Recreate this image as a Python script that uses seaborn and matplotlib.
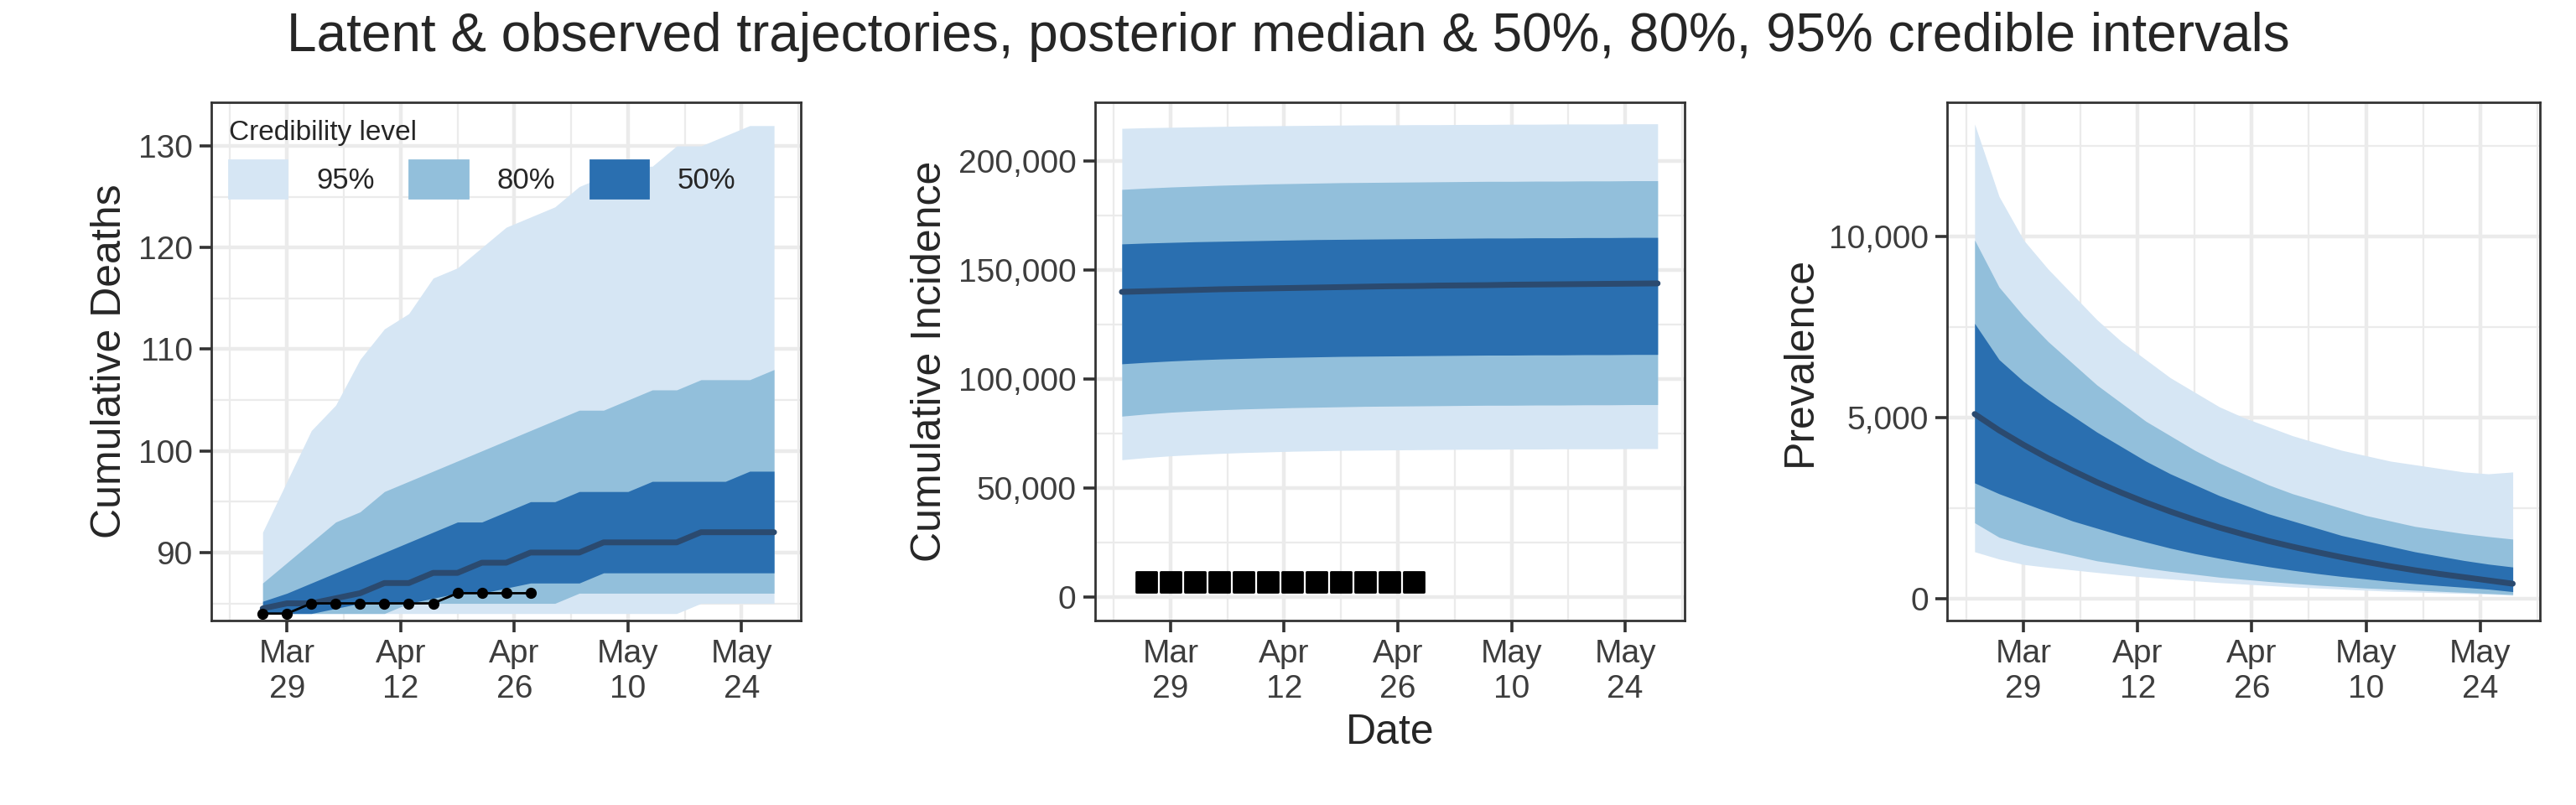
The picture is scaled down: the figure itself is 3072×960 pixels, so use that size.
import numpy as np
import pandas as pd
import matplotlib
matplotlib.use("Agg")
import matplotlib.pyplot as plt
import matplotlib.dates as mdates
from matplotlib.patches import Patch
from matplotlib.ticker import FuncFormatter, FixedLocator
import seaborn as sns

# ---- data ----
death_dates = pd.date_range("2020-03-26", "2020-05-28", freq="3D")   # 22
latent_dates = pd.date_range("2020-03-23", "2020-05-28", freq="3D")  # 23
obs_dates = pd.date_range("2020-03-26", "2020-04-28", freq="3D")     # 12

deaths_obs = [84, 84, 85, 85, 85, 85, 85, 85, 86, 86, 86, 86]
deaths_med = [84.5, 85, 85, 85.5, 86, 87, 87, 88, 88, 89, 89, 90, 90, 90, 91, 91, 91, 91, 92, 92, 92, 92]
deaths_lo50 = [84, 84, 84, 84.5, 85, 85, 85, 85.5, 86, 86, 86.5, 87, 87, 87, 88, 88, 88, 88, 88, 88, 88, 88]
deaths_hi50 = [85.2, 86, 87, 88, 89, 90, 91, 92, 93, 93, 94, 95, 95, 96, 96, 96, 97, 97, 97, 97, 98, 98]
deaths_lo80 = [84, 84, 84, 84, 84, 84, 85, 85, 85, 85, 85, 85, 85, 86, 86, 86, 86, 86, 86, 86, 86, 86]
deaths_hi80 = [87, 89, 91, 93, 94, 96, 97, 98, 99, 100, 101, 102, 103, 104, 104, 105, 106, 106, 107, 107, 107, 108]
deaths_lo95 = [84, 84, 84, 84, 84, 84, 84, 84, 84, 84, 84, 84, 84, 84, 84, 84, 84, 84, 85, 85, 85, 85]
deaths_hi95 = [92, 97, 102, 104.5, 109, 112, 113.5, 117, 118, 120, 122, 123, 124, 126, 127, 128, 128, 130, 130, 131, 132, 132]

inc_obs = [7000] * 12
inc_med = [140000, 140300, 140600, 140900, 141200, 141400, 141600, 141800, 142000, 142200, 142400, 142600, 142700,
           142900, 143000, 143100, 143300, 143400, 143500, 143600, 143700, 143800, 143900]
inc_lo50 = [107000, 107700, 108300, 108800, 109200, 109500, 109800, 110000, 110200, 110400, 110500, 110600, 110700,
            110800, 110900, 111000, 111000, 111100, 111100, 111200, 111200, 111300, 111300]
inc_hi50 = [162000, 162400, 162700, 163000, 163200, 163400, 163600, 163800, 164000, 164100, 164200, 164300, 164400,
            164500, 164600, 164700, 164700, 164800, 164800, 164900, 164900, 165000, 165000]
inc_lo80 = [83000, 84000, 84800, 85400, 85900, 86300, 86600, 86900, 87100, 87300, 87500, 87600, 87700,
            87800, 87900, 88000, 88000, 88100, 88100, 88200, 88200, 88300, 88300]
inc_hi80 = [187000, 187600, 188100, 188500, 188900, 189200, 189500, 189700, 189900, 190100, 190200, 190300, 190400,
            190500, 190600, 190700, 190700, 190800, 190800, 190900, 190900, 191000, 191000]
inc_lo95 = [63000, 64000, 64800, 65400, 65900, 66300, 66600, 66900, 67100, 67300, 67400, 67500, 67600,
            67700, 67800, 67800, 67900, 67900, 68000, 68000, 68000, 68100, 68100]
inc_hi95 = [215000, 215300, 215500, 215700, 215900, 216100, 216200, 216300, 216400, 216500, 216600, 216600, 216700,
            216700, 216800, 216800, 216900, 216900, 217000, 217000, 217000, 217100, 217100]

prev_med = [5100, 4650, 4250, 3880, 3540, 3220, 2930, 2660, 2410, 2180, 1970, 1780, 1600, 1440, 1290, 1150, 1020,
            900, 790, 690, 600, 510, 420]
prev_lo50 = [3200, 2900, 2650, 2400, 2150, 1950, 1750, 1570, 1400, 1250, 1120, 1000, 890, 790, 700, 620, 550,
             480, 420, 370, 320, 270, 200]
prev_hi50 = [7600, 6600, 6000, 5500, 5050, 4600, 4200, 3800, 3450, 3150, 2850, 2600, 2350, 2150, 1950, 1750, 1600,
             1450, 1300, 1180, 1060, 960, 880]
prev_lo80 = [2100, 1700, 1500, 1350, 1200, 1050, 950, 850, 760, 680, 600, 540, 480, 430, 380, 340, 300,
             270, 240, 210, 180, 150, 120]
prev_hi80 = [9900, 8600, 7800, 7100, 6500, 5900, 5400, 4900, 4500, 4100, 3750, 3450, 3150, 2900, 2700, 2500, 2300,
             2150, 2000, 1900, 1800, 1720, 1650]
prev_lo95 = [1300, 1100, 950, 870, 800, 730, 660, 600, 550, 500, 450, 410, 370, 330, 300, 270, 240,
             210, 190, 170, 150, 130, 100]
prev_hi95 = [13100, 11100, 9900, 9100, 8400, 7700, 7100, 6600, 6100, 5700, 5300, 5000, 4750, 4500, 4300, 4100,
             3950, 3800, 3700, 3600, 3500, 3450, 3500]

c95, c80, c50, cmed = "#d6e6f4", "#92bfdb", "#2a6fb0", "#2b4a6f"

sns.set_theme(style="whitegrid")
plt.rcParams["font.family"] = ["Liberation Sans", "DejaVu Sans"]

fig = plt.figure(figsize=(15.36, 4.8), dpi=200)
pos = [(0.082, 0.311), (0.425, 0.654), (0.756, 0.986)]
axes = [fig.add_axes([l, 0.229, r - l, 0.644]) for l, r in pos]

major = pd.to_datetime(["2020-03-29", "2020-04-12", "2020-04-26", "2020-05-10", "2020-05-24"])
minor = pd.to_datetime(["2020-03-22", "2020-04-05", "2020-04-19", "2020-05-03", "2020-05-17", "2020-05-31"])


def style(ax, ylabel, yticks, yminor, ylim):
    ax.set_facecolor("white")
    ax.set_xlim(pd.Timestamp("2020-03-19 16:00"), pd.Timestamp("2020-05-31 08:00"))
    ax.set_ylim(*ylim)
    ax.xaxis.set_major_locator(FixedLocator(mdates.date2num(major)))
    ax.xaxis.set_minor_locator(FixedLocator(mdates.date2num(minor)))
    ax.set_xticklabels([d.strftime("%b\n%d") for d in major])
    ax.set_yticks(yticks)
    ax.yaxis.set_minor_locator(FixedLocator(yminor))
    ax.yaxis.set_major_formatter(FuncFormatter(lambda v, p: f"{int(v):,}"))
    ax.grid(which="major", color="#ebebeb", linewidth=1.6)
    ax.grid(which="minor", color="#ebebeb", linewidth=0.8)
    ax.set_axisbelow(True)
    for s in ax.spines.values():
        s.set_color("#333333")
        s.set_linewidth(1.0)
    ax.tick_params(axis="both", which="major", length=5, width=1.3, color="#333333",
                   labelsize=14, labelcolor="#3d3d3d", bottom=True, left=True, pad=3)
    ax.tick_params(which="minor", length=0)
    ax.set_ylabel(ylabel, fontsize=18)
    ax.set_xlabel("")


def bands(ax, dates, lo95, hi95, lo80, hi80, lo50, hi50, med):
    ax.fill_between(dates, lo95, hi95, color=c95, linewidth=0)
    ax.fill_between(dates, lo80, hi80, color=c80, linewidth=0)
    ax.fill_between(dates, lo50, hi50, color=c50, linewidth=0)
    sns.lineplot(x=dates, y=med, ax=ax, color=cmed, linewidth=2.5)


ax = axes[0]
bands(ax, death_dates, deaths_lo95, deaths_hi95, deaths_lo80, deaths_hi80, deaths_lo50, deaths_hi50, deaths_med)
sns.lineplot(x=obs_dates, y=deaths_obs, ax=ax, color="black", linewidth=1, marker="o", markersize=4,
             markeredgecolor="black")
style(ax, "Cumulative Deaths", [90, 100, 110, 120, 130], [85, 95, 105, 115, 125], (83.3, 134.3))
handles = [Patch(color=c95, label="95%"), Patch(color=c80, label="80%"), Patch(color=c50, label="50%")]
leg = ax.legend(handles=handles, title="Credibility level", ncol=3, loc="upper left", frameon=False,
                fontsize=12.5, title_fontsize=12, handlelength=2.0, handleheight=1.6,
                columnspacing=1.2, handletextpad=1.0, borderaxespad=0.2)
leg._legend_box.align = "left"

ax = axes[1]
bands(ax, latent_dates, inc_lo95, inc_hi95, inc_lo80, inc_hi80, inc_lo50, inc_hi50, inc_med)
ax.scatter(obs_dates, inc_obs, marker="s", s=80, color="black", zorder=5)
style(ax, "Cumulative Incidence", [0, 50000, 100000, 150000, 200000],
      [25000, 75000, 125000, 175000], (-10800, 227000))
ax.set_xlabel("Date", fontsize=18)

ax = axes[2]
bands(ax, latent_dates, prev_lo95, prev_hi95, prev_lo80, prev_hi80, prev_lo50, prev_hi50, prev_med)
style(ax, "Prevalence", [0, 5000, 10000], [2500, 7500, 12500], (-600, 13700))

fig.suptitle("Latent & observed trajectories, posterior median & 50%, 80%, 95% credible intervals",
             fontsize=23, x=0.5, y=0.985)
fig.savefig("out.png", dpi=200)
